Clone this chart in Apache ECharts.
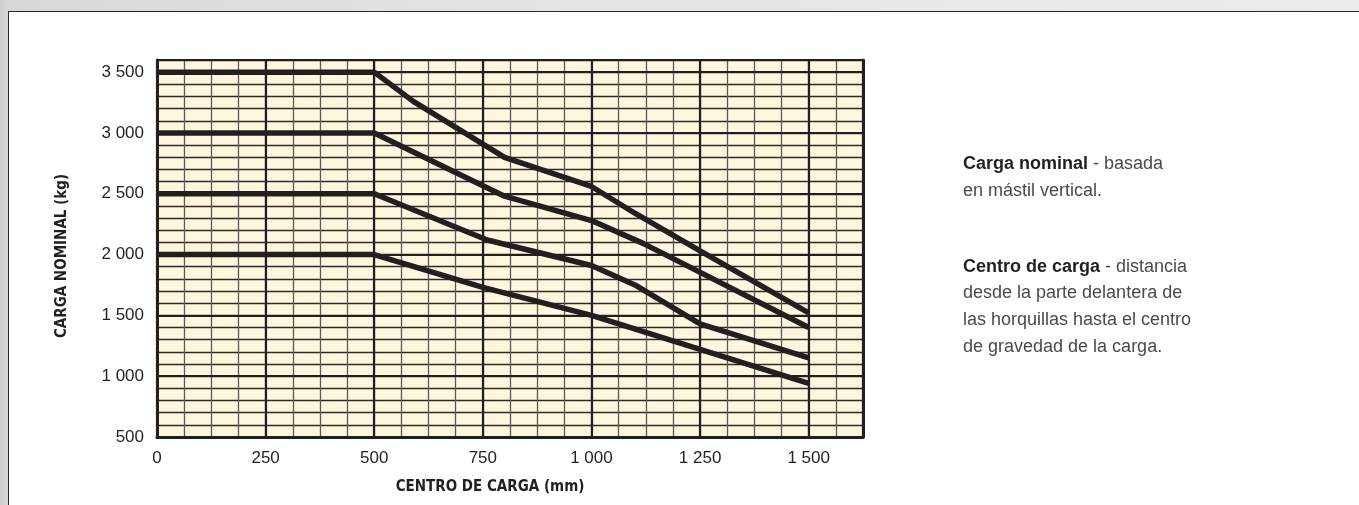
<!DOCTYPE html>
<html><head><meta charset="utf-8">
<script src="https://cdn.jsdelivr.net/npm/echarts@6/dist/echarts.min.js"></script>
<style>
html,body{margin:0;padding:0;width:1359px;height:505px;overflow:hidden;}
body{background:linear-gradient(90deg,#cdcdcd 0px,#d8d8d8 8px,#e4e4e4 40%,#ececec 100%);}
#box{position:absolute;left:8px;top:11px;width:1400px;height:600px;background:#fff;border:1.5px solid #2a2a2a;}
#chart{position:absolute;left:0;top:0;width:1359px;height:505px;}
</style></head><body><div id="box"></div><div id="chart"></div>
<script>
const xTickValues = [0, 250, 500, 750, 1000, 1250, 1500];
const xTickLabels = ['0', '250', '500', '750', '1 000', '1 250', '1 500'];
const yTickValues = [500, 1000, 1500, 2000, 2500, 3000, 3500];
const yTickLabels = ['500', '1 000', '1 500', '2 000', '2 500', '3 000', '3 500'];

const curve3500 = [[0, 3500], [500, 3500], [590, 3260], [800, 2800], [1000, 2560], [1100, 2340], [1250, 2030], [1500, 1520]];
const curve3000 = [[0, 3000], [500, 3000], [800, 2480], [1000, 2280], [1120, 2090], [1500, 1400]];
const curve2500 = [[0, 2500], [500, 2500], [760, 2120], [1000, 1910], [1100, 1750], [1250, 1430], [1500, 1150]];
const curve2000 = [[0, 2000], [500, 2000], [750, 1730], [1000, 1500], [1250, 1220], [1500, 940]];

const xName = 'CENTRO DE CARGA (mm)';
const yName = 'CARGA NOMINAL (kg)';

const INK = '#231f20';
const labelFont = "'Liberation Sans', Arial, sans-serif";
const condFont = "'Liberation Sans Narrow', 'DejaVu Sans Condensed', 'Liberation Sans', sans-serif";

function lbl(values, labels) {
  return function (v) {
    const i = values.indexOf(v);
    return i >= 0 ? labels[i] : '';
  };
}

const chart = echarts.init(document.getElementById('chart'), null, { renderer: 'canvas' });
const curveSeries = [curve3500, curve3000, curve2500, curve2000].map(function (d) {
  return {
    type: 'line', data: d, xAxisIndex: 1, yAxisIndex: 1, symbol: 'none',
    lineStyle: { color: INK, width: 5.5, join: 'round', cap: 'butt' },
    silent: true, animation: false, z: 5
  };
});

chart.setOption({
  backgroundColor: 'transparent',
  animation: false,
  grid: { left: 157, top: 60, right: 496, bottom: 68, show: true, backgroundColor: '#fef6dd', borderWidth: 0 },
  xAxis: [
    { type: 'value', position: 'top', min: 0, max: 1625, interval: 62.5, z: 0,
      axisLine: { show: true, onZero: false, lineStyle: { color: '#5a5552', width: 2 } },
      axisTick: { show: false }, axisLabel: { show: false },
      splitLine: { show: true, lineStyle: { color: '#5e5955', width: 1.3 } } },
    { type: 'value', position: 'bottom', min: 0, max: 1625, interval: 250, z: 1,
      axisLine: { show: true, onZero: false, lineStyle: { color: INK, width: 3 } },
      axisTick: { show: false },
      axisLabel: { show: true, margin: 13, fontSize: 17, color: INK, fontFamily: labelFont,
        showMaxLabel: false, formatter: lbl(xTickValues, xTickLabels) },
      splitLine: { show: true, lineStyle: { color: INK, width: 2.2 } } }
  ],
  yAxis: [
    { type: 'value', position: 'right', min: 500, max: 3600, interval: 100, z: 0,
      axisLine: { show: true, onZero: false, lineStyle: { color: INK, width: 3 } },
      axisTick: { show: false }, axisLabel: { show: false },
      splitLine: { show: true, lineStyle: { color: '#2e2a2a', width: 1.3 } } },
    { type: 'value', position: 'left', min: 500, max: 3600, interval: 500, z: 1,
      axisLine: { show: true, onZero: false, lineStyle: { color: INK, width: 3 } },
      axisTick: { show: false },
      axisLabel: { show: true, margin: 13, fontSize: 17, color: INK, fontFamily: labelFont,
        showMaxLabel: false, formatter: lbl(yTickValues, yTickLabels) },
      splitLine: { show: true, lineStyle: { color: INK, width: 2.2 } } }
  ],
  series: curveSeries,
  graphic: [
    { type: 'text', x: 490, y: 487, silent: true,
      style: { text: xName, font: "bold 15px " + condFont, fill: INK, textAlign: 'center', textVerticalAlign: 'middle' } },
    { type: 'text', x: 62, y: 256, rotation: Math.PI / 2, silent: true,
      style: { text: yName, font: "bold 15px " + condFont, fill: INK, textAlign: 'center', textVerticalAlign: 'middle' } },
    { type: 'text', x: 963, y: 150.6, silent: true,
      style: { text: '{b|Carga nominal}{r| - basada}\n{r|en mástil vertical.}', lineHeight: 26.7,
        rich: { b: { font: "bold 18px " + labelFont, fill: INK, lineHeight: 26.7 },
                r: { font: "18px " + labelFont, fill: '#4a4a4a', lineHeight: 26.7 } } } },
    { type: 'text', x: 963, y: 253.3, silent: true,
      style: { text: '{b|Centro de carga}{r| - distancia}\n{r|desde la parte delantera de}\n{r|las horquillas hasta el centro}\n{r|de gravedad de la carga.}', lineHeight: 26.7,
        rich: { b: { font: "bold 18px " + labelFont, fill: INK, lineHeight: 26.7 },
                r: { font: "18px " + labelFont, fill: '#4a4a4a', lineHeight: 26.7 } } } }
  ]
});
</script></body></html>
